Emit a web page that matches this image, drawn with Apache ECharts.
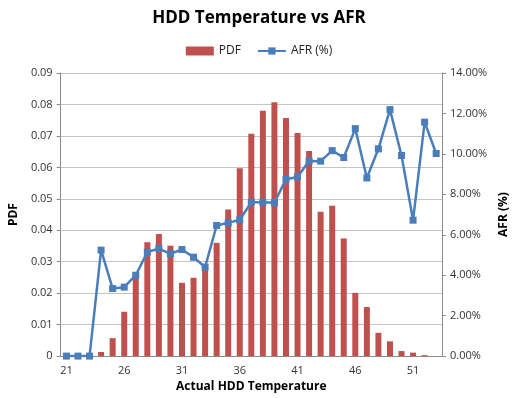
<!DOCTYPE html>
<html>
<head>
<meta charset="utf-8">
<script src="https://cdn.jsdelivr.net/npm/echarts@6/dist/echarts.min.js"></script>
<style>
  html, body { margin: 0; padding: 0; background: #fff; }
  #container { width: 518px; height: 398px; }
</style>
</head>
<body>
<div id="container"></div>
<script>
const temps = [21, 22, 23, 24, 25, 26, 27, 28, 29, 30, 31, 32, 33, 34, 35, 36, 37,
  38, 39, 40, 41, 42, 43, 44, 45, 46, 47, 48, 49, 50, 51, 52, 53];

const pdf = [0, 0, 0, 0.0013, 0.0057, 0.0141, 0.0265, 0.0362, 0.0388, 0.0351,
  0.0233, 0.0249, 0.028, 0.036, 0.0466, 0.0597, 0.0707, 0.078, 0.0807, 0.0757,
  0.0709, 0.0652, 0.0459, 0.0478, 0.0374, 0.0201, 0.0156, 0.0074, 0.0047,
  0.0016, 0.0011, 0.0003, 0];

const afr = [0, 0, 0, 5.24, 3.34, 3.41, 4.0, 5.14, 5.32, 5.06, 5.27, 4.89, 4.4,
  6.46, 6.59, 6.74, 7.61, 7.61, 7.58, 8.75, 8.86, 9.65, 9.64, 10.16, 9.82,
  11.25, 8.81, 10.25, 12.19, 9.92, 6.72, 11.57, 10.02];

const myChart = echarts.init(document.getElementById("container"), null, {
  renderer: "canvas",
});

const font = "'Open Sans', 'Liberation Sans', sans-serif";
const gridColor = "#c4c4c4";
const axisColor = "#8c8c8c";

myChart.setOption({
  animation: false,
  textStyle: { fontFamily: font },
  title: {
    text: "HDD Temperature vs AFR",
    left: "center",
    top: 5,
    textStyle: { fontSize: 17, fontWeight: "bold", color: "#000", fontFamily: font },
  },
  legend: {
    top: 40,
    left: "center",
    itemGap: 16,
    itemWidth: 28,
    itemHeight: 9,
    textStyle: { fontSize: 12, color: "#222" },
    data: [
      { name: "PDF", icon: "rect" },
      { name: "AFR (%)" },
    ],
  },
  grid: { left: 60, right: 70, top: 73, bottom: 41 },
  xAxis: {
    type: "category",
    data: temps,
    name: "Actual HDD Temperature",
    nameLocation: "middle",
    nameGap: 23,
    nameTextStyle: { fontSize: 12, fontWeight: "bold", color: "#000" },
    axisLine: { lineStyle: { color: axisColor } },
    axisTick: { interval: 0, length: 4, lineStyle: { color: axisColor } },
    axisLabel: { interval: 4, fontSize: 11, color: "#333", margin: 9 },
  },
  yAxis: [
    {
      type: "value",
      min: 0,
      max: 0.09,
      interval: 0.01,
      name: "PDF",
      nameLocation: "middle",
      nameGap: 38,
      nameTextStyle: { fontSize: 12, fontWeight: "bold", color: "#000" },
      axisLine: { show: true, lineStyle: { color: axisColor } },
      axisTick: { show: true, length: 4, lineStyle: { color: axisColor } },
      axisLabel: {
        fontSize: 11,
        color: "#333",
        formatter: (v) => (v === 0 ? "0" : v.toFixed(2)),
      },
      splitLine: { lineStyle: { color: gridColor } },
    },
    {
      type: "value",
      min: 0,
      max: 14,
      interval: 2,
      name: "AFR (%)",
      nameLocation: "middle",
      nameGap: 54,
      nameRotate: 90,
      nameTextStyle: { fontSize: 12, fontWeight: "bold", color: "#000" },
      axisLine: { show: true, lineStyle: { color: axisColor } },
      axisTick: { show: true, length: 4, lineStyle: { color: axisColor } },
      axisLabel: {
        fontSize: 11,
        color: "#333",
        formatter: (v) => v.toFixed(2) + "%",
      },
      splitLine: { show: false },
    },
  ],
  series: [
    {
      name: "PDF",
      type: "bar",
      data: pdf,
      barWidth: 6,
      itemStyle: { color: "#C0504D" },
    },
    {
      name: "AFR (%)",
      type: "line",
      yAxisIndex: 1,
      data: afr,
      symbol: "rect",
      symbolSize: 7,
      lineStyle: { color: "#4A7EBB", width: 2.5 },
      itemStyle: { color: "#4A7EBB" },
    },
  ],
});

window.addEventListener("resize", myChart.resize);
</script>
</body>
</html>
